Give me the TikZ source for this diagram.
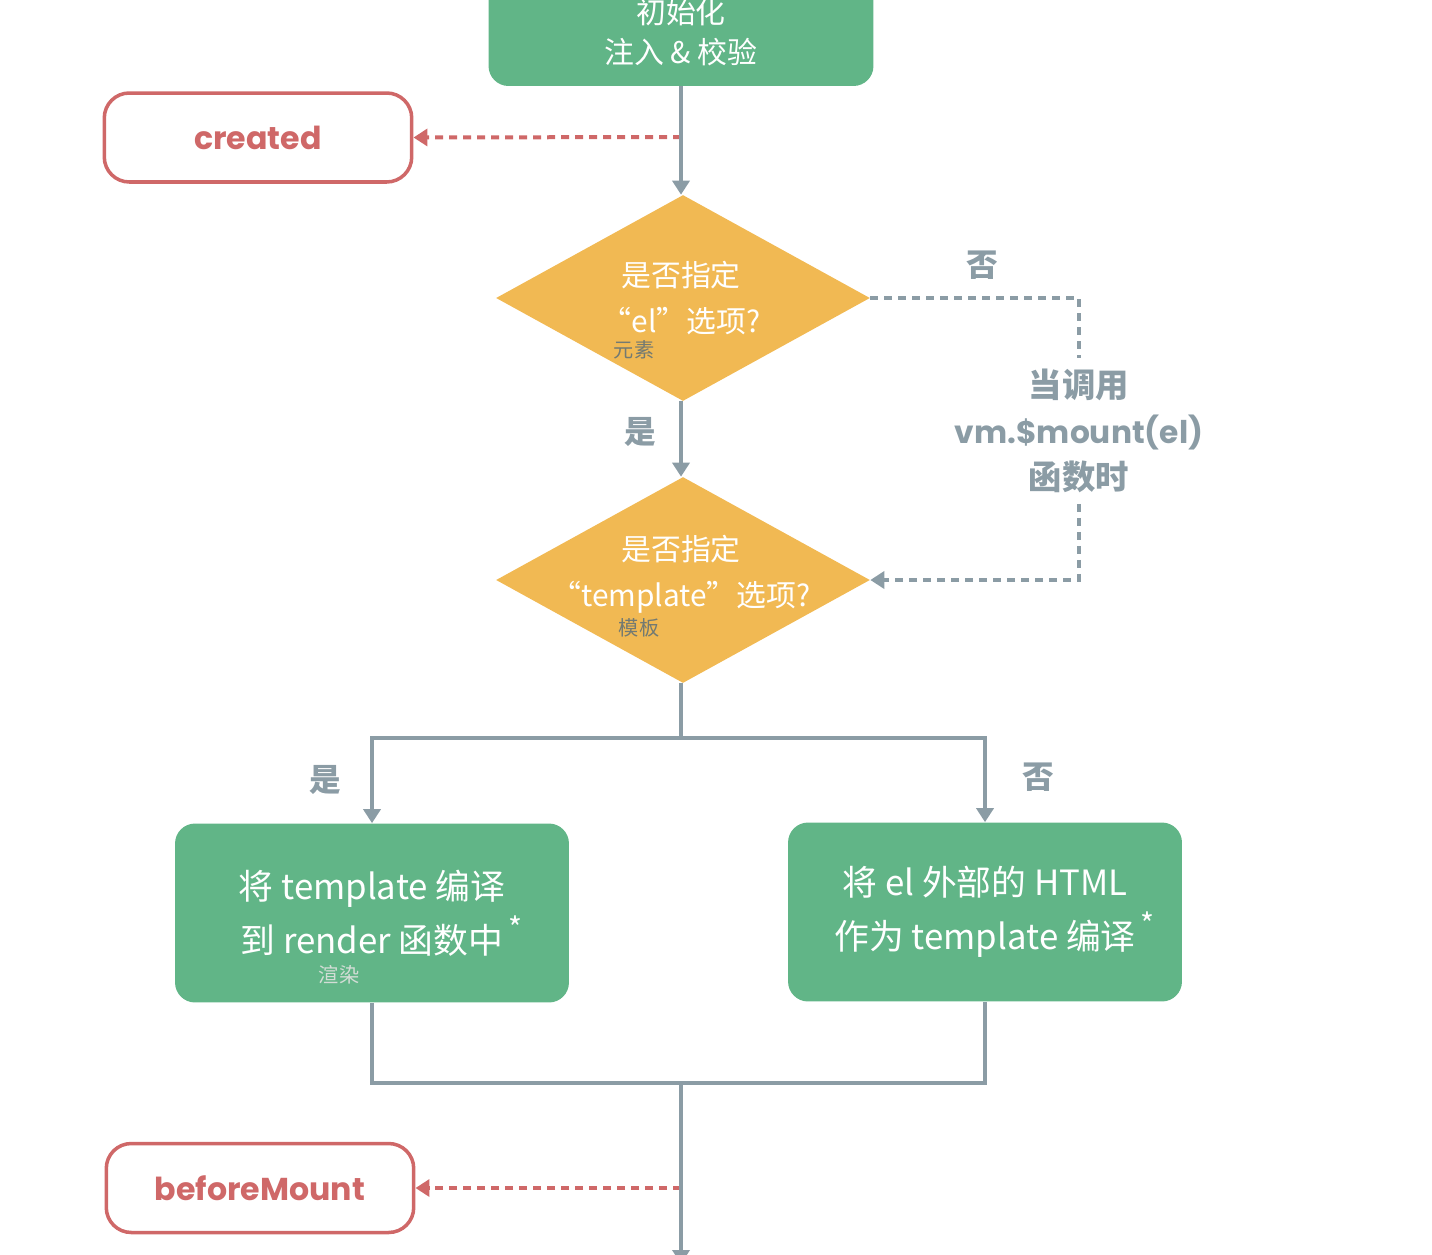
\documentclass[tikz,border=0pt]{standalone}
\usepackage{fontspec}
\setmainfont{Noto Sans CJK SC}
\newfontfamily\hookfont{Poppins}
\usepackage{tikz}
\usetikzlibrary{positioning,arrows.meta,calc,shapes.geometric}
\definecolor{vuegreen}{HTML}{61B587}
\definecolor{vueorange}{HTML}{F1B953}
\definecolor{flowgray}{HTML}{8B9CA5}
\definecolor{hookred}{HTML}{CF6868}
\definecolor{tagink}{HTML}{737A72}
\definecolor{tagpale}{HTML}{D3DDD6}
\newcommand{\footstar}{\rlap{\raisebox{0.75ex}{\fontsize{17}{17}\selectfont\,*}}}

\begin{document}
\begin{tikzpicture}[
  x=0.02cm, y=-0.02cm,
  startbox/.style={
    fill=vuegreen, rounded corners=0.4cm, text=white, align=center,
    minimum width=7.7cm, minimum height=2.16cm, inner sep=0pt,
    font=\fontsize{17}{23}\selectfont
  },
  stepbox/.style={
    fill=vuegreen, rounded corners=0.4cm, text=white, align=center,
    minimum width=7.88cm, minimum height=3.58cm, inner sep=0pt,
    font=\fontsize{19.8}{31}\selectfont
  },
  decision/.style={
    diamond, fill=vueorange, inner sep=0pt, aspect=1.8,
    minimum width=7.48cm, minimum height=4.12cm
  },
  dtext/.style={text=white, align=center, font=\fontsize{17}{26}\selectfont},
  hookbox/.style={
    draw=hookred, line width=2pt, rounded corners=0.5cm, fill=white,
    minimum width=6.15cm, minimum height=1.78cm,
    text=hookred, font=\hookfont\bfseries\fontsize{18}{22}\selectfont
  },
  tag/.style={font=\fontsize{11.5}{13}\selectfont, inner sep=0pt},
  branchlbl/.style={text=flowgray, font=\bfseries\fontsize{18}{22}\selectfont},
  notelbl/.style={text=flowgray, align=center, inner xsep=0pt, inner ysep=0.22cm,
    font=\bfseries\fontsize{19}{26}\selectfont},
  flow/.style={draw=flowgray, line width=0.08cm},
  flowarr/.style={flow, -{Triangle[length=0.28cm, width=0.34cm]}},
  hookline/.style={draw=hookred, line width=0.08cm, dash pattern=on 0.16cm off 0.12cm,
    -{Triangle[length=0.28cm, width=0.34cm]}},
  mountline/.style={draw=flowgray, line width=0.08cm, dash pattern=on 0.16cm off 0.12cm},
]
\useasboundingbox (0,0) rectangle (1432,1254);
\clip (0,0) rectangle (1432,1254);

% ---------------- main column
\node[startbox] (init) at (681,32) {初始化\\注入 \& 校验};
\node[decision] (q1) at (683,298) {};
\node[dtext] (q1text) at (681,298) {是否指定\\“el”选项?};
\node[tag, text=tagink] (q1tag) at (634,350) {元素};
\node[decision] (q2) at (683,580) {};
\node[dtext] (q2text) at (681,574) {是否指定\\“template”选项?};
\node[tag, text=tagink] (q2tag) at (639,628) {模板};

% ---------------- compile branches
\node[stepbox] (render) at (372,913) {将 template 编译\\到 render 函数中\footstar};
\node[tag, text=tagpale] (rendertag) at (339,975) {渲染};
\node[stepbox] (outer) at (985,912) {将 el 外部的 HTML\\作为 template 编译\footstar};

% ---------------- lifecycle hooks
\node[hookbox] (created) at (258,137.5) {created};
\node[hookbox] (beforemount) at (260,1188) {beforeMount};

% ---------------- branch labels
\node[branchlbl] (no1) at (982,265) {否};
\node[branchlbl] (yes1) at (640,432) {是};
\node[branchlbl] (yes2) at (325,780) {是};
\node[branchlbl] (no2) at (1038,777) {否};
\node[notelbl] (callnote) at (1079,431)
  {当调用\\{\hookfont\bfseries\fontsize{17.8}{26}\selectfont vm.\$mount(el)}\\函数时};

% ---------------- connectors
\coordinate (tap1) at (681,137);
\coordinate (tap2) at (681,1188);
\coordinate (elbow) at (1079,298);
\coordinate (split) at (681,738);
\coordinate (merge) at (681,1083);
\coordinate (exit) at (681,1264);

\draw[hookline] (tap1) -- (created.east);
\draw[hookline] (tap2) -- (beforemount.east);

\draw[flowarr] (init.south) -- (init.south|-q1.north);
\draw[flowarr] (init.south|-q1.south) -- (init.south|-q2.north);
\draw[mountline] (q1.east) -- (elbow) -- (elbow|-callnote.north);
\draw[mountline, -{Triangle[length=0.28cm, width=0.34cm]}] (callnote.south) |- (q2.east);

\draw[flow] (init.south|-q2.south) -- (split);
\draw[flowarr] (split) -| (render.north);
\draw[flowarr] (split) -| (outer.north);
\draw[flow] (render.south) |- (merge);
\draw[flow] (outer.south) |- (merge);
\draw[flowarr] (merge) -- (exit);

\end{tikzpicture}
\end{document}
